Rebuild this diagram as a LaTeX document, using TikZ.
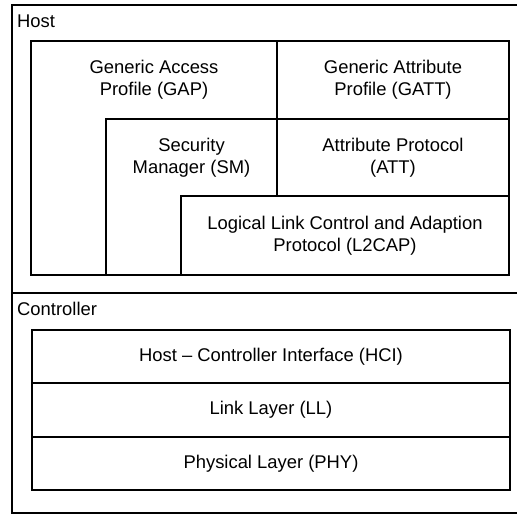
\documentclass[tikz,border=0pt]{standalone}
\usepackage{fontspec}
\setmainfont{Liberation Sans}
\usetikzlibrary{positioning}
\begin{document}
\begin{tikzpicture}[x=1pt,y=-1pt,node distance=0pt,
  blk/.style={draw,fill=white,line width=2pt,inner sep=0pt,outer sep=0pt,align=center,font=\fontsize{18.4}{22}\selectfont},
  frame/.style={draw,line width=1.6pt,inner sep=0pt,outer sep=0pt,anchor=north west},
  lbl/.style={inner sep=0pt,anchor=west,font=\fontsize{18.4}{22}\selectfont}]
\useasboundingbox (0,0) rectangle (517,516);
\clip (0,0) rectangle (517,516);
% host and controller frames
\node[frame,minimum width=518pt,minimum height=288pt] (host) at (12,5) {};
\node[frame,minimum width=518pt,minimum height=220pt] (ctrl) at (12,293) {};
\node[lbl] (hosttxt) at (17,21) {Host};
\node[lbl] (ctrltxt) at (17,309) {Controller};
% host stack
\node[blk,anchor=north west,minimum width=246pt,minimum height=234pt] (gap) at (31,41) {};
\node[blk,draw=none,fill=none] (gaptxt) at (154,80) {Generic Access\\Profile (GAP)};
\node[blk,minimum width=232pt,minimum height=78pt] (gatt) at (393,80) {Generic Attribute\\Profile (GATT)};
\node[blk,anchor=north west,minimum width=171pt,minimum height=156pt] (sm) at (106,119) {};
\node[blk,draw=none,fill=none] (smtxt) at (191.5,157.5) {Security\\Manager (SM)};
\node[blk,minimum width=232pt,minimum height=77pt] (att) at (393,157.5) {Attribute Protocol\\(ATT)};
\node[blk,minimum width=328pt,minimum height=79pt] (l2cap) at (345,235.5) {Logical Link Control and Adaption\\Protocol (L2CAP)};
% controller stack
\node[blk,minimum width=478pt,minimum height=53pt] (hci) at (271,356.5) {Host -- Controller Interface (HCI)};
\node[blk,minimum width=478pt,minimum height=54pt,below=of hci] (ll) {Link Layer (LL)};
\node[blk,minimum width=478pt,minimum height=53pt,below=of ll] (phy) {Physical Layer (PHY)};
\end{tikzpicture}
\end{document}
